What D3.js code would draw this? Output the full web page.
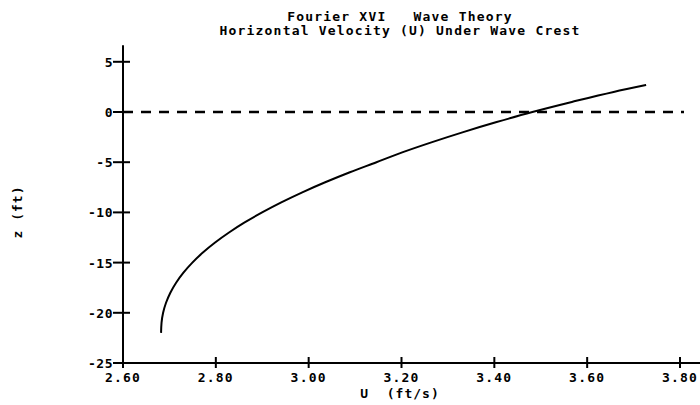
<!DOCTYPE html>
<html>
<head>
<meta charset="utf-8">
<script src="https://cdn.jsdelivr.net/npm/d3@7"></script>
<style>
  body { margin: 0; background: #fff; }
  svg text { font-family: "DejaVu Sans Mono", monospace; font-weight: bold; fill: #000; white-space: pre; }
</style>
</head>
<body>
<div id="chart"></div>
<script>
// velocity profile under the crest
var velocity = [2.682, 2.683, 2.6864, 2.6927, 2.702, 2.7144, 2.7302, 2.7494, 2.7721, 2.7984, 2.8284, 2.8621, 2.8997, 2.941, 2.9863, 3.0356, 3.0888, 3.1461, 3.203, 3.266, 3.333, 3.405, 3.482, 3.567, 3.657, 3.727];
var elevation = [-22, -21, -20, -19, -18, -17, -16, -15, -14, -13, -12, -11, -10, -9, -8, -7, -6, -5, -4, -3, -2, -1, 0, 1, 2, 2.69];

var xTicks = [2.6, 2.8, 3.0, 3.2, 3.4, 3.6, 3.8];
var yTicks = [5, 0, -5, -10, -15, -20, -25];
var titleLines = ["Fourier XVI   Wave Theory", "Horizontal Velocity (U) Under Wave Crest"];

var width = 700, height = 405;

var svg = d3.select("#chart").append("svg")
    .attr("width", width)
    .attr("height", height);

var x = d3.scaleLinear().domain([2.6, 3.8]).range([123, 680]);
var y = d3.scaleLinear().domain([-25, 0]).range([363, 112]);

var profile = velocity.map(function(u, i) { return {u: u, z: elevation[i]}; });

// titles
svg.selectAll("text.title")
    .data(titleLines)
    .enter().append("text")
    .attr("class", "title")
    .attr("x", 400)
    .attr("y", function(d, i) { return 21 + i * 14; })
    .attr("text-anchor", "middle")
    .style("font-size", "13px")
    .style("letter-spacing", "1.2px")
    .text(function(d) { return d; });

// still water line
svg.append("line")
    .attr("x1", x(2.6)).attr("x2", 684)
    .attr("y1", y(0)).attr("y2", y(0))
    .attr("stroke", "#000")
    .attr("stroke-width", 2.5)
    .attr("stroke-dasharray", "10,8");

// axes drawn by hand to get the crossing ticks
var axes = svg.append("g").attr("stroke", "#000").attr("stroke-width", 2);

axes.append("line")
    .attr("x1", x(2.6)).attr("x2", x(2.6))
    .attr("y1", y(6.65)).attr("y2", y(-25));
axes.append("line")
    .attr("x1", x(2.6)).attr("x2", 700)
    .attr("y1", y(-25)).attr("y2", y(-25));

axes.selectAll("line.ytick")
    .data(yTicks)
    .enter().append("line")
    .attr("class", "ytick")
    .attr("x1", x(2.6) - 10).attr("x2", x(2.6) + 7)
    .attr("y1", function(d) { return y(d); })
    .attr("y2", function(d) { return y(d); });

axes.selectAll("line.xtick")
    .data(xTicks)
    .enter().append("line")
    .attr("class", "xtick")
    .attr("x1", function(d) { return x(d); })
    .attr("x2", function(d) { return x(d); })
    .attr("y1", y(-25) - 6).attr("y2", y(-25) + 5);

svg.selectAll("text.ylab")
    .data(yTicks)
    .enter().append("text")
    .attr("class", "ylab")
    .attr("x", x(2.6) - 10)
    .attr("y", function(d) { return y(d) + 5; })
    .attr("text-anchor", "end")
    .style("font-size", "13px")
    .style("letter-spacing", "0.5px")
    .text(function(d) { return d; });

svg.selectAll("text.xlab")
    .data(xTicks)
    .enter().append("text")
    .attr("class", "xlab")
    .attr("x", function(d) { return x(d); })
    .attr("y", 382)
    .attr("text-anchor", "middle")
    .style("font-size", "13px")
    .style("letter-spacing", "1.2px")
    .text(function(d) { return d3.format(".2f")(d); });

svg.append("text")
    .attr("x", 400)
    .attr("y", 398)
    .attr("text-anchor", "middle")
    .style("font-size", "13px")
    .style("letter-spacing", "1px")
    .text("U  (ft/s)");

svg.append("text")
    .attr("transform", "translate(22,212) rotate(-90)")
    .attr("text-anchor", "middle")
    .style("font-size", "13px")
    .style("letter-spacing", "1px")
    .text("z (ft)");

// the profile
var line = d3.line()
    .x(function(d) { return x(d.u); })
    .y(function(d) { return y(d.z); })
    .curve(d3.curveMonotoneY);

svg.append("path")
    .datum(profile)
    .attr("fill", "none")
    .attr("stroke", "#000")
    .attr("stroke-width", 2)
    .attr("d", line);
</script>
</body>
</html>
